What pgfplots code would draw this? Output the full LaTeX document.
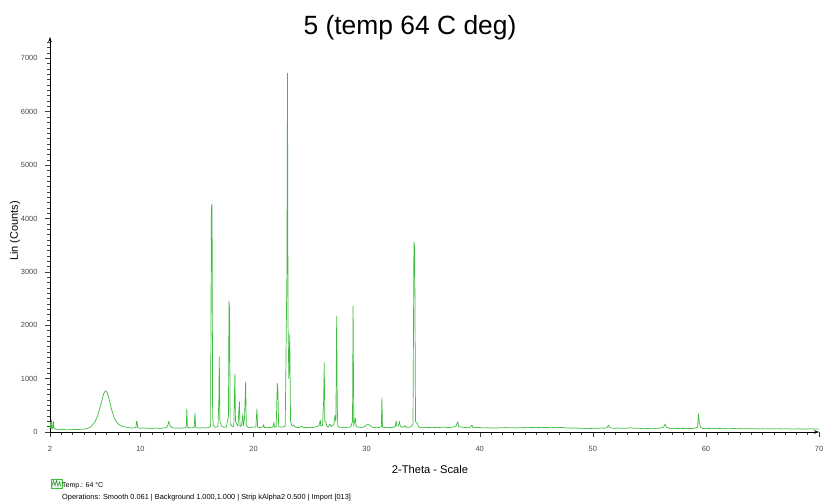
\documentclass[border=0pt]{standalone}
\usepackage{pgfplots}
\pgfplotsset{compat=1.18}
\usepackage{pgfplotstable}
\usetikzlibrary{arrows.meta}
\usepackage{fontspec}
\setmainfont{Liberation Sans}
\definecolor{xrdgreen}{RGB}{60,190,60}
\definecolor{ticktext}{RGB}{70,70,70}
\pgfplotstableread{
x y
2.00 60
2.05 180
2.10 70
2.14 220
2.18 60
2.26 90
2.30 200
2.34 70
2.45 60
2.6 45
2.8 55
3.0 40
3.25 50
3.5 38
3.75 45
4.0 42
4.25 50
4.5 44
4.75 55
5.0 52
5.2 60
5.4 75
5.6 95
5.8 140
6.0 200
6.2 300
6.4 440
6.6 600
6.75 720
6.9 770
6.95 760
7.05 740
7.2 640
7.35 500
7.5 380
7.7 260
7.9 180
8.1 140
8.3 115
8.5 100
8.75 90
9.0 80
9.25 75
9.5 78
9.6 80
9.65 200
9.7 190
9.75 80
10.0 70
10.25 75
10.5 68
10.75 72
11.0 65
11.25 74
11.5 70
11.75 66
12.0 75
12.25 80
12.4 110
12.5 200
12.6 130
12.75 85
13.0 72
13.25 78
13.5 70
13.75 75
14.0 80
14.05 120
14.1 430
14.15 90
14.4 75
14.6 80
14.75 90
14.82 355
14.88 85
15.1 75
15.3 72
15.5 80
15.75 76
16.0 82
16.2 100
16.27 4200
16.33 4270
16.38 300
16.45 120
16.6 90
16.85 95
16.93 600
16.97 1410
17.02 200
17.2 100
17.4 90
17.6 95
17.78 300
17.83 2450
17.88 2300
17.93 150
18.1 110
18.25 100
18.35 1086
18.4 200
18.5 150
18.62 110
18.75 570
18.8 100
18.95 130
19.05 330
19.1 120
19.2 250
19.3 940
19.36 120
19.5 90
19.7 85
19.9 90
20.2 95
20.3 430
20.36 90
20.6 80
20.85 100
20.9 140
20.95 85
21.2 80
21.5 85
21.7 90
21.8 180
21.85 90
22.0 95
22.1 910
22.15 800
22.22 100
22.4 90
22.6 95
22.8 110
22.95 3000
23.0 6720
23.05 2000
23.12 1000
23.2 1820
23.27 200
23.4 110
23.55 130
23.7 90
23.9 85
24.1 90
24.3 110
24.4 80
24.6 85
24.8 80
25.0 88
25.2 85
25.4 90
25.6 100
25.8 130
25.9 225
25.95 110
26.1 120
26.2 600
26.25 1300
26.3 200
26.4 190
26.48 110
26.6 90
26.76 150
26.85 100
27.1 140
27.2 310
27.28 200
27.35 2170
27.4 500
27.45 110
27.6 90
27.8 85
28.0 90
28.2 85
28.4 88
28.6 95
28.75 200
28.8 2360
28.86 110
29.0 260
29.08 100
29.3 90
29.5 85
29.7 90
29.9 110
30.1 150
30.3 120
30.5 90
30.7 85
30.9 80
31.1 85
31.3 100
31.35 640
31.4 90
31.6 85
31.8 80
32.0 85
32.2 82
32.4 90
32.55 110
32.6 210
32.68 110
32.8 110
32.9 200
32.98 100
33.2 90
33.4 120
33.5 85
33.7 90
33.9 95
34.1 150
34.18 3560
34.25 3450
34.32 200
34.5 150
34.6 90
34.8 85
35.0 80
35.25 88
35.5 82
35.75 90
36.0 85
36.25 80
36.5 86
36.75 92
37.0 88
37.25 84
37.5 90
37.75 95
37.9 110
38.05 190
38.15 100
38.4 90
38.7 85
39.0 80
39.2 95
39.3 130
39.4 85
39.6 80
39.8 88
40.0 82
40.25 78
40.5 76
40.75 82
41.0 74
41.25 78
41.5 72
41.75 80
42.0 76
42.25 84
42.5 78
42.75 82
43.0 80
43.25 76
43.5 82
43.75 78
44.0 84
44.25 80
44.5 86
44.75 82
45.0 88
45.25 84
45.5 80
45.75 86
46.0 82
46.25 90
46.5 84
46.75 88
47.0 82
47.25 86
47.5 80
47.75 76
48.0 74
48.25 70
48.5 76
48.75 68
49.0 72
49.25 66
49.5 70
49.75 64
50.0 68
50.25 72
50.5 66
50.75 74
51.0 70
51.25 80
51.4 130
51.5 78
51.75 72
52.0 70
52.25 76
52.5 68
52.75 72
53.0 70
53.25 78
53.5 74
53.75 68
54.0 72
54.25 66
54.5 70
54.75 64
55.0 68
55.25 72
55.5 66
55.75 70
56.0 74
56.25 90
56.4 150
56.5 88
56.75 70
57.0 66
57.25 70
57.5 64
57.75 68
58.0 66
58.25 62
58.5 66
58.75 64
59.0 70
59.25 90
59.35 340
59.42 160
59.55 80
59.75 66
60.0 62
60.25 66
60.5 60
60.75 64
61.0 62
61.25 66
61.5 60
61.75 64
62.0 58
62.25 62
62.5 66
62.75 60
63.0 64
63.25 58
63.5 62
63.75 60
64.0 64
64.25 58
64.5 62
64.75 56
65.0 60
65.25 58
65.5 62
65.75 56
66.0 60
66.25 58
66.5 62
66.75 56
67.0 60
67.25 58
67.5 54
67.75 58
68.0 56
68.25 60
68.5 54
68.75 58
69.0 56
69.25 60
69.5 54
69.75 58
70.0 56
}\xrd
\begin{document}
\begin{tikzpicture}[x=1bp,y=1bp]
\useasboundingbox (0,0) rectangle (825,504);
\begin{axis}[
  at={(50bp,72bp)}, anchor=south west,
  scale only axis, width=769bp, height=395bp,
  xmin=2, xmax=70, ymin=0, ymax=7400,
  axis lines=left,
  axis line style={black, line width=0.5bp, -{Stealth[length=5bp,width=3.5bp]}},
  xtick={2,10,20,30,40,50,60,70},
  minor xtick={3,...,69},
  ytick={0,1000,2000,3000,4000,5000,6000,7000},
  minor ytick={100,200,...,7300},
  tick align=outside,
  major tick length=5bp, minor tick length=3bp,
  every tick/.style={black!75, line width=0.45bp},
  /pgf/number format/assume math mode=true,
  /pgf/number format/1000 sep={},
  ticklabel style={font=\fontsize{7.5}{8}\selectfont, text=ticktext},
  xticklabel style={yshift=-6bp},
  yticklabel style={xshift=-4bp},
  clip=false,
]
\addplot[xrdgreen, line width=0.7bp, line join=round, mark=none] table[x=x,y=y] {\xrd};
\end{axis}
\node[font=\fontsize{26.5}{30}\selectfont, anchor=base] at (410,469) {5 (temp 64 C deg)};
\node[font=\fontsize{11}{13}\selectfont, rotate=90] at (15,273) {Lin (Counts)};
\node[font=\fontsize{11.2}{13}\selectfont] at (430,34) {2-Theta - Scale};
\draw[xrdgreen, line width=0.6bp, fill=xrdgreen!15] (51,16) rectangle (62,25);
\draw[xrdgreen!70!black, line width=0.5bp] (52,18) -- (53.5,23) -- (55,18.5) -- (56.5,23.5) -- (58,18) -- (59.5,22) -- (61,18);
\node[font=\fontsize{7}{8}\selectfont, anchor=west, inner sep=0pt] at (62,18) {Temp.: 64 °C};
\node[font=\fontsize{7.4}{8}\selectfont, anchor=west, inner sep=0pt] at (62,6.3) {Operations: Smooth 0.061 | Background 1.000,1.000 | Strip kAlpha2 0.500 | Import [013]};
\end{tikzpicture}
\end{document}
